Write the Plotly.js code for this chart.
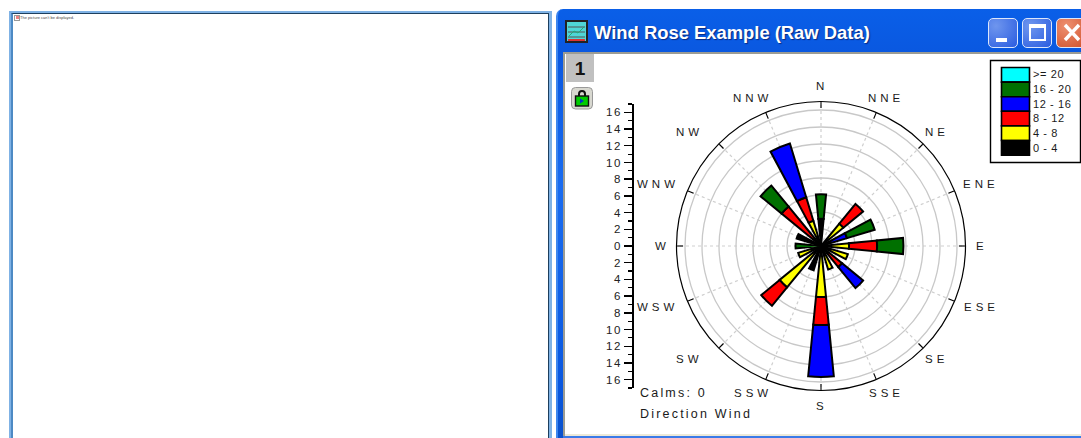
<!DOCTYPE html>
<html><head><meta charset="utf-8">
<script src="https://cdn.plot.ly/plotly-3.0.1.min.js"></script>
<style>
html,body{margin:0;padding:0;background:#fff;width:1081px;height:438px;overflow:hidden}
.abs{position:absolute;box-sizing:border-box}
#plot{position:absolute;left:0;top:0;width:1081px;height:438px}
#plot .ytick text{letter-spacing:1.6px}
</style></head><body>
<!-- left window frame -->
<div class="abs" style="left:9px;top:11px;width:543px;height:440px;border:2px solid #7fb2e5;border-right-width:3px"></div>
<div class="abs" style="left:11px;top:13px;width:538px;height:440px;border:1px solid #1d3f5e;border-left:2px solid #4d8ac4"></div>
<svg class="abs" style="left:14px;top:15px" width="6" height="6"><rect x=".5" y=".5" width="5" height="5" fill="#fff" stroke="#999"/><rect x="2" y="1" width="3" height="3" fill="#f08080"/></svg>
<div class="abs" style="left:20px;top:15px;font:4px 'Liberation Sans';color:#444;white-space:nowrap">The picture can't be displayed.</div>
<!-- right window frame -->
<div class="abs" style="left:556px;top:9px;width:560px;height:440px;background:linear-gradient(#0a5fe8 0,#0a58e0 10%,#1a6cf0 40%,#0a58e0 85%,#0a50c8 100%);border-radius:7px 7px 0 0;border-left:2px solid #3d86ee"></div>
<div class="abs" style="left:563px;top:52px;width:530px;height:384px;background:#fff;border-left:2px solid #9c9c94;border-top:2px solid #9c9c94"></div>
<div class="abs" style="left:565px;top:434px;width:520px;height:2px;background:#ece9d8"></div>
<div class="abs" style="left:563px;top:436px;width:520px;height:2px;background:#3a7ae8"></div>
<div class="abs" style="left:594px;top:22px;font:bold 18.4px 'Liberation Sans';letter-spacing:0;color:#fff;text-shadow:1px 1px 1px #0a2a80;white-space:nowrap">Wind Rose Example (Raw Data)</div>
<svg class="abs" style="left:565px;top:20px" width="24" height="24"><rect x="1" y="1" width="21" height="21" fill="#4fd6d6" stroke="#222" stroke-width="2"/><path d="M3 7h17M3 12h17M3 17h17" stroke="#555" stroke-width="1"/><path d="M4 16l5-5 4 2 6-6" stroke="#2a7" fill="none"/><rect x="3" y="19" width="17" height="2" fill="#d33"/></svg>
<div class="abs" style="left:988px;top:18px;width:30px;height:30px;border-radius:5px;border:1.5px solid #dbe6fb;background:radial-gradient(circle at 25% 25%,#6f96ee,#2a5ce0)"><div class="abs" style="left:7px;top:19px;width:11px;height:4px;background:#fff"></div></div>
<div class="abs" style="left:1022px;top:18px;width:30px;height:30px;border-radius:5px;border:1.5px solid #dbe6fb;background:radial-gradient(circle at 25% 25%,#6f96ee,#2a5ce0)"><div class="abs" style="left:6px;top:5px;width:17px;height:17px;border:2px solid #fff;border-top-width:4px"></div></div>
<div class="abs" style="left:1056px;top:18px;width:40px;height:30px;border-radius:5px;border:1.5px solid #dbe6fb;background:radial-gradient(circle at 25% 25%,#ee9070,#c8421c)">
<svg class="abs" style="left:4px;top:3px" width="22" height="22"><path d="M4 3L18 18M18 3L4 18" stroke="#fff" stroke-width="3.4"/></svg></div>
<div class="abs" style="left:566px;top:54px;width:28px;height:28px;background:#c0c0c0;font:bold 19px 'Liberation Sans';text-align:center;line-height:29px;color:#111">1</div>
<svg class="abs" style="left:571px;top:87px" width="22" height="23"><rect x=".5" y=".5" width="21" height="21.5" rx="4" fill="#d8d8d0" stroke="#999"/><path d="M8 9V7a3 3 0 0 1 6 0v2" fill="none" stroke="#111" stroke-width="2"/><rect x="4.5" y="9" width="13" height="10" fill="#0c0" stroke="#111" stroke-width="1.4"/><path d="M9 11.5l4 2.5-4 2.5z" fill="#03c"/></svg>

<div id="plot"></div>
<script>
// Wind rose data (frequency per speed class, stacked outward)
const directions = [0,22.5,45,67.5,90,112.5,135,157.5,180,202.5,225,247.5,270,292.5,315,337.5];
const dirLabels  = ["N","NNE","NE","ENE","E","ESE","SE","SSE","S","SSW","SW","WSW","W","WNW","NW","NNW"];
const s0to4   = [3.2,null,null,null,null,null,null,null,null,3.0,null,null,null,3.0,null,null];
const s4to8   = [null,null,3.4,null,3.3,3.3,null,2.9,6.0,null,6.3,2.8,null,null,null,3.1];
const s8to12  = [null,null,3.0,null,3.3,null,3.2,null,3.3,null,2.8,null,null,null,6.0,2.9];
const s12to16 = [null,null,null,3.2,null,null,3.2,null,6.1,null,null,null,null,null,null,6.6];
const s16to20 = [2.9,null,null,3.4,3.1,null,null,null,null,null,null,null,3.0,null,3.2,null];
const s20plus = [null,null,null,null,null,null,null,null,null,null,null,null,null,null,null,null];
const seriesNames  = ["0 - 4","4 - 8","8 - 12","12 - 16","16 - 20",">= 20"];
const seriesValues = [s0to4,s4to8,s8to12,s12to16,s16to20,s20plus];
const seriesColors = ["#000000","#ffff00","#ff0000","#0000ff","#007000","#00ffff"];
const radialTicks = [2,4,6,8,10,12,14,16];
const scaleVals = [-16,-14,-12,-10,-8,-6,-4,-2,0,2,4,6,8,10,12,14,16];
const scaleText = ["16","14","12","10","8","6","4","2","0","2","4","6","8","10","12","14","16"];
const W=1081,H=438;
const px=x=>x/W, py=y=>1-y/H;

const traces = seriesNames.map((n,i)=>({
  type:'barpolar',name:n,r:seriesValues[i],theta:directions,width:directions.map(()=>11.25),
  marker:{color:seriesColors[i],line:{color:'#000',width:2}},showlegend:false,hoverinfo:'skip',subplot:'polar'
}));
traces.push({type:'scatter',mode:'markers',x:scaleVals.map(()=>0),y:scaleVals,marker:{opacity:0,size:1},showlegend:false,hoverinfo:'skip'});

const shapes=[{type:'rect',xref:'paper',yref:'paper',x0:px(990.5),x1:px(1080.5),y0:py(60.5),y1:py(162.5),line:{color:'#000',width:1.4},fillcolor:'#fff',layer:'below'}];
const annotations=[], spacing=[];
const lab=(x,y,text,size,sp,anchor)=>{
  annotations.push({xref:'paper',yref:'paper',x:px(x),y:py(y),xanchor:anchor,align:anchor==='left'?'left':'center',yanchor:'middle',showarrow:false,text,
    font:{family:'Liberation Sans',size,color:'#1a1a1a'}});
  spacing.push(sp);
};
// legend rows top to bottom
[5,4,3,2,1,0].forEach((k,row)=>{
  const top=67.5+row*14.6;
  shapes.push({type:'rect',xref:'paper',yref:'paper',x0:px(1001.5),x1:px(1029.5),y0:py(top),y1:py(top+14.6),fillcolor:seriesColors[k],line:{color:'#000',width:1.6},layer:'above'});
  lab(1031,top+7,seriesNames[k],11,0.6,'left');
});
lab(638,393,'Calms: 0',12.5,2.2,'left');
lab(638,414,'Direction Wind',12.5,2.2,'left');
// compass labels sit around the rose; the reference spreads the compound names wider and a little to the left
directions.forEach((d,i)=>{
  const cardinal=d%90===0, diagonal=!cardinal&&d%45===0, a=d*Math.PI/180;
  const x=(cardinal?820:diagonal?813:819.5)+(cardinal?160:175)*Math.sin(a), y=245.5-160*Math.cos(a);
  lab(x,y,dirLabels[i],11.5,cardinal?0:4,'center');
});

const layout={
  width:W,height:H,margin:{l:0,r:0,t:0,b:0},paper_bgcolor:'rgba(0,0,0,0)',plot_bgcolor:'rgba(0,0,0,0)',showlegend:false,
  xaxis:{domain:[px(634),px(640)],range:[0,1],visible:false,fixedrange:true},
  yaxis:{domain:[py(388),py(104)],range:[-17,17],anchor:'x',side:'left',showgrid:false,zeroline:false,showline:true,linecolor:'#000',linewidth:1.6,
    tickmode:'array',tickvals:scaleVals,ticktext:scaleText,ticks:'outside',ticklen:8,tickwidth:1.4,tickcolor:'#000',
    minor:{tickmode:'linear',dtick:1,tick0:0,ticks:'outside',ticklen:4,tickwidth:1.2,tickcolor:'#000'},
    tickfont:{family:'Liberation Sans',size:11.5,color:'#222'},fixedrange:true},
  polar:{
    domain:{x:[px(676.5),px(965.5)],y:[py(390.5),py(101.5)]},barmode:'stack',bgcolor:'rgba(0,0,0,0)',
    radialaxis:{range:[0,17],tickvals:radialTicks,showticklabels:false,ticks:'',showline:false,gridcolor:'#c8c8c8',gridwidth:1.3},
    angularaxis:{direction:'clockwise',rotation:90,tickmode:'array',tickvals:directions,showticklabels:false,ticks:'inside',ticklen:6,tickwidth:1.1,tickcolor:'#000',
      linecolor:'#000',linewidth:1.2,gridcolor:'#cfcfcf',griddash:'dot',gridwidth:1.2}
  },
  shapes,annotations
};
Plotly.newPlot('plot',traces,layout,{staticPlot:true,displayModeBar:false}).then(()=>{
  document.querySelectorAll('#plot .annotation').forEach(g=>{
    const i=+g.getAttribute('data-index');
    const t=g.querySelector('text');
    if(t) t.style.letterSpacing=spacing[i]+'px';
  });
});
</script>
</body></html>
